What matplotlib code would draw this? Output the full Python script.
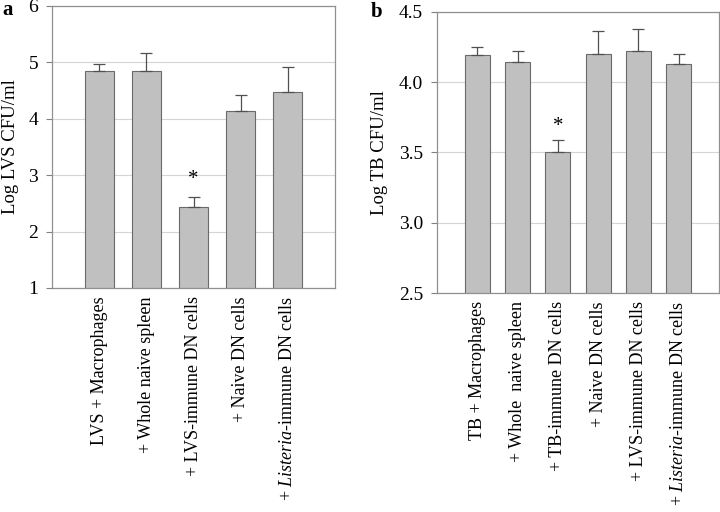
import matplotlib
matplotlib.use("Agg")
import matplotlib.pyplot as plt

plt.rcParams['font.family'] = ['Liberation Serif', 'DejaVu Serif']
plt.rcParams['mathtext.fontset'] = 'custom'
plt.rcParams['mathtext.rm'] = 'Liberation Serif'
plt.rcParams['mathtext.it'] = 'Liberation Serif:italic'

cats_a = ["LVS + Macrophages", "+ Whole naive spleen", "+ LVS-immune DN cells",
          "+ Naive DN cells", r"+ $\mathit{Listeria}$-immune DN cells"]
vals_a = [4.85, 4.85, 2.43, 4.13, 4.47]
err_a = [0.13, 0.32, 0.18, 0.30, 0.45]
yticks_a = [1, 2, 3, 4, 5, 6]
ytick_labels_a = ["1", "2", "3", "4", "5", "6"]
star_a_idx, star_a_y = 2, 2.93

cats_b = ["TB + Macrophages", "+ Whole  naive spleen", "+ TB-immune DN cells",
          "+ Naive DN cells", "+ LVS-immune DN cells", r"+ $\mathit{Listeria}$-immune DN cells"]
vals_b = [4.19, 4.14, 3.50, 4.20, 4.22, 4.13]
err_b = [0.06, 0.08, 0.09, 0.16, 0.16, 0.07]
yticks_b = [2.5, 3.0, 3.5, 4.0, 4.5]
ytick_labels_b = ["2.5", "3.0", "3.5", "4.0", "4.5"]
star_b_idx, star_b_y = 2, 3.685

fig = plt.figure(figsize=(7.2, 5.12), dpi=100)
W, H = 720, 512

def make(ax, cats, vals, errs, yticks, ylabels, ylim, ylab, sidx, sy):
    x = list(range(len(cats)))
    ax.set_axisbelow(True)
    ax.yaxis.grid(True, color='#d4d4d4', linewidth=0.8)
    ax.bar(x, vals, width=0.62, color='#c0c0c0', edgecolor='#6a6a6a', linewidth=0.8, zorder=2)
    ax.errorbar(x, vals, yerr=[[0]*len(errs), errs], fmt='none', ecolor='#505050',
                elinewidth=0.9, capsize=4, capthick=0.9, zorder=3)
    ax.text(sidx, sy, '*', ha='center', va='center', fontsize=15)
    ax.set_xlim(-1, len(cats))
    ax.set_ylim(*ylim)
    ax.set_yticks(yticks)
    ax.set_yticklabels(ylabels, fontsize=14)
    ax.set_xticks(x)
    ax.set_xticklabels(cats, rotation=90, fontsize=13, va='top', ha='center')
    ax.tick_params(axis='x', length=0, pad=6)
    ax.tick_params(axis='y', length=4, color='#808080', pad=6)
    for s in ax.spines.values():
        s.set_color('#909090')
        s.set_linewidth(0.9)
    ax.set_ylabel(ylab, fontsize=13.5, va='center')

ax1 = fig.add_axes([52/W, 1-288/H, 283/W, 282/H])
make(ax1, cats_a, vals_a, err_a, yticks_a, ytick_labels_a, (1, 6), "Log LVS CFU/ml", star_a_idx, star_a_y)
ax1.yaxis.set_label_coords(-(52-11)/283, 0.5)

ax2 = fig.add_axes([437/W, 1-293/H, 282/W, 281.2/H])
make(ax2, cats_b, vals_b, err_b, yticks_b, ytick_labels_b, (2.5, 4.5), "Log TB CFU/ml", star_b_idx, star_b_y)
ax2.yaxis.set_label_coords(-(437-380)/282, 0.5)

fig.text(2/W, 1-10/H, 'a', fontsize=15, fontweight='bold', va='center', ha='left')
fig.text(371/W, 1-12/H, 'b', fontsize=15, fontweight='bold', va='center', ha='left')

fig.savefig('out.png', dpi=100)
